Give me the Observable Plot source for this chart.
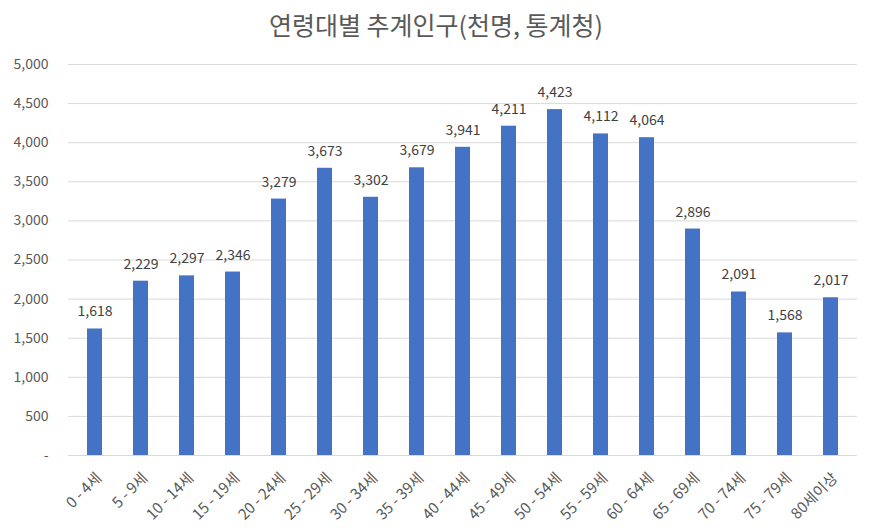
<!DOCTYPE html>
<html><head><meta charset="utf-8">
<script src="https://cdn.jsdelivr.net/npm/d3@7"></script>
<script src="https://cdn.jsdelivr.net/npm/@observablehq/plot@0.6"></script>
<style>
body{margin:0;background:#fff;font-family:"Noto Sans CJK KR","Liberation Sans",sans-serif;}
#title{height:48px;line-height:48px;text-align:center;font-size:25px;color:#595959;}
</style></head>
<body>
<div id="title">연령대별 추계인구(천명, 통계청)</div>
<div id="chart"></div>
<script>
const categories = ["0 - 4세","5 - 9세","10 - 14세","15 - 19세","20 - 24세","25 - 29세","30 - 34세","35 - 39세","40 - 44세","45 - 49세","50 - 54세","55 - 59세","60 - 64세","65 - 69세","70 - 74세","75 - 79세","80세이상"];
const values = [1618,2229,2297,2346,3279,3673,3302,3679,3941,4211,4423,4112,4064,2896,2091,1568,2017];
const yTicks = [0,500,1000,1500,2000,2500,3000,3500,4000,4500,5000];
const data = categories.map((c,i)=>({age:c, value:values[i]}));
const fmt = d3.format(",");
const chart = Plot.plot({
  width: 872, height: 480,
  marginLeft: 68, marginRight: 15, marginTop: 16, marginBottom: 73,
  style: {fontFamily: '"Noto Sans CJK KR","Liberation Sans",sans-serif', fontSize: "14px", color: "#595959"},
  x: {domain: categories, paddingInner: 0.67, paddingOuter: 0.335, label: null, tickSize: 0, tickRotate: -45, tickPadding: 11},
  y: {domain: [0,5000], ticks: yTicks, label: null, tickSize: 0, tickPadding: 20, tickFormat: d => d === 0 ? "-" : fmt(d)},
  marks: [
    Plot.gridY(yTicks, {stroke: "#d9d9d9", strokeOpacity: 1}),
    Plot.barY(data, {x: "age", y: "value", fill: "#4472c4"}),
    Plot.text(data, {x: "age", y: "value", text: d => fmt(d.value), dy: -17, fill: "#404040", fontSize: 14}),
    Plot.axisX({tickRotate: -45, tickSize: 0, tickPadding: 11, dx: 4, dy: 9, fontSize: 15, label: null})
  ]
});
document.getElementById("chart").appendChild(chart);
</script>
</body></html>
